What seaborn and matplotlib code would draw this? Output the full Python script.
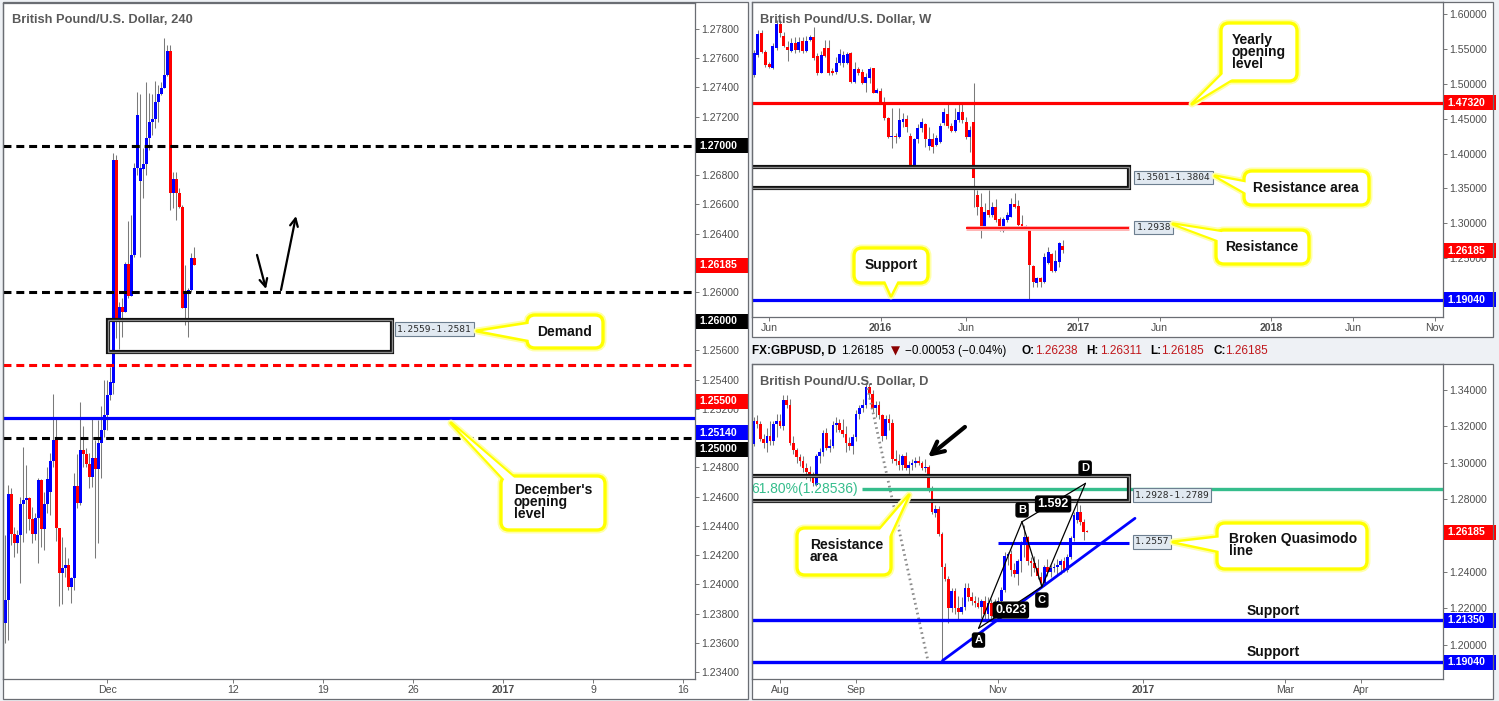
import numpy as np
import matplotlib
matplotlib.use("Agg")
import matplotlib.pyplot as plt
import seaborn as sns
from matplotlib.patches import Rectangle, FancyBboxPatch, Polygon
from matplotlib.transforms import blended_transform_factory
from matplotlib.ticker import FuncFormatter

sns.set_theme(style="white")
plt.rcParams["font.family"] = ["Liberation Sans", "DejaVu Sans"]

# ---------------- 4H candles (bar 0 = first 4H bar of Dec 1) ----------------
h4_first = -34
h4_open = [1.23733, 1.23893, 1.24618, 1.24342, 1.24281, 1.24338, 1.24550, 1.24577, 1.24591, 1.24445,
           1.24342, 1.24452, 1.24714, 1.24377, 1.24550, 1.24634, 1.24844, 1.24988, 1.24383, 1.24080,
           1.24110, 1.24133, 1.23980, 1.24041, 1.24673, 1.24555, 1.24920, 1.24892, 1.24821, 1.24737,
           1.24862, 1.24792, 1.24965, 1.25056, 1.25159, 1.25296, 1.25378, 1.26904, 1.25802, 1.25898,
           1.25866, 1.26194, 1.25973, 1.26253, 1.26846, 1.26762, 1.26840, 1.26874, 1.27052, 1.27161,
           1.27182, 1.27303, 1.27353, 1.27394, 1.27485, 1.27649, 1.26680, 1.26773, 1.26680, 1.26584,
           1.25893, 1.26003, 1.26012, 1.26231]
h4_high = [1.24338, 1.24680, 1.24657, 1.24395, 1.24372, 1.24600, 1.24942, 1.24817, 1.24600, 1.24532,
           1.24486, 1.24726, 1.24721, 1.24634, 1.24806, 1.24897, 1.25301, 1.25148, 1.24383, 1.24326,
           1.24258, 1.24178, 1.24053, 1.24764, 1.24892, 1.25248, 1.25084, 1.24931, 1.24897, 1.25148,
           1.24988, 1.25125, 1.25221, 1.25399, 1.25399, 1.25490, 1.26949, 1.26938, 1.25934, 1.25957,
           1.26203, 1.26486, 1.26527, 1.26883, 1.27367, 1.27353, 1.26983, 1.27435, 1.27360, 1.27353,
           1.27444, 1.27417, 1.27440, 1.27741, 1.27690, 1.27690, 1.26824, 1.26824, 1.26710, 1.26596,
           1.26185, 1.26026, 1.26265, 1.26306]
h4_low = [1.23597, 1.23619, 1.24270, 1.24190, 1.24212, 1.24012, 1.24292, 1.24349, 1.24372, 1.24281,
          1.24304, 1.24149, 1.24258, 1.24235, 1.24486, 1.24475, 1.24806, 1.24299, 1.23852, 1.23866,
          1.24053, 1.23962, 1.23870, 1.23962, 1.24520, 1.24543, 1.24806, 1.24806, 1.24662, 1.24664,
          1.24183, 1.24281, 1.24726, 1.25011, 1.25056, 1.25262, 1.25300, 1.25683, 1.25610, 1.25695,
          1.25866, 1.25957, 1.25973, 1.26242, 1.26801, 1.26242, 1.26646, 1.26801, 1.26972, 1.27075,
          1.27125, 1.27166, 1.27348, 1.27394, 1.27481, 1.26561, 1.26573, 1.26493, 1.26573, 1.25889,
          1.25775, 1.25695, 1.26003, 1.26185]
h4_close = [1.23893, 1.24618, 1.24342, 1.24281, 1.24338, 1.24550, 1.24577, 1.24591, 1.24445, 1.24342,
            1.24452, 1.24714, 1.24377, 1.24550, 1.24721, 1.24844, 1.24988, 1.24383, 1.24080, 1.24110,
            1.24133, 1.23980, 1.24041, 1.24673, 1.24555, 1.24920, 1.24892, 1.24821, 1.24737, 1.24862,
            1.24792, 1.24965, 1.25056, 1.25159, 1.25296, 1.25387, 1.26904, 1.25802, 1.25898, 1.25866,
            1.26194, 1.25973, 1.26253, 1.26846, 1.27212, 1.26846, 1.26874, 1.27052, 1.27161, 1.27182,
            1.27303, 1.27353, 1.27394, 1.27485, 1.27649, 1.26680, 1.26773, 1.26680, 1.26584, 1.25893,
            1.26003, 1.26012, 1.26231, 1.26185]
h4_ticks = [0, 42, 72, 102, 132, 162, 192]
h4_tick_labels = ["Dec", "12", "19", "26", "2017", "9", "16"]
h4_levels_dashed = [1.2700, 1.2600, 1.2500]
h4_level_red = 1.2550
h4_level_blue = 1.2514
demand_zone = (1.2559, 1.2581)

# ---------------- weekly candles (0 = week of Dec 5, 2016) ----------------
wk_open = [1.5174, 1.5126, 1.5413, 1.5723, 1.5451, 1.5284, 1.5221, 1.5518, 1.5857, 1.5685,
           1.5522, 1.5475, 1.5580, 1.5484, 1.5618, 1.5475, 1.5627, 1.5666, 1.5398, 1.5159,
           1.5508, 1.5508, 1.5174, 1.5174, 1.5293, 1.5293, 1.5303, 1.5436, 1.5030, 1.5207,
           1.5174, 1.5016, 1.5078, 1.5221, 1.4873, 1.4897, 1.4744, 1.4505, 1.4233, 1.4247,
           1.4233, 1.4457, 1.4496, 1.4252, 1.3836, 1.4209, 1.4362, 1.4424, 1.4109, 1.4209,
           1.4123, 1.4171, 1.4433, 1.4567, 1.4395, 1.4328, 1.4481, 1.4601, 1.4457, 1.4233,
           1.4448, 1.3407, 1.3230, 1.2929, 1.3192, 1.3120, 1.3230, 1.3063, 1.2896, 1.3048,
           1.3096, 1.3278, 1.3254, 1.2991, 1.2929, 1.2905, 1.2389, 1.2141, 1.2213, 1.2165,
           1.2437, 1.2561, 1.2322, 1.2451, 1.2681]
wk_high = [1.5460, 1.5484, 1.5771, 1.5771, 1.5484, 1.5317, 1.5580, 1.5914, 1.5914, 1.5747,
           1.5618, 1.5651, 1.5675, 1.5675, 1.5666, 1.5685, 1.5699, 1.5818, 1.5436, 1.5475,
           1.5627, 1.5627, 1.5221, 1.5389, 1.5494, 1.5475, 1.5460, 1.5460, 1.5317, 1.5245,
           1.5207, 1.5150, 1.5245, 1.5221, 1.4935, 1.4935, 1.4806, 1.4529, 1.4648, 1.4290,
           1.4648, 1.4577, 1.4553, 1.4290, 1.4219, 1.4424, 1.4505, 1.4433, 1.4376, 1.4290,
           1.4266, 1.4433, 1.4648, 1.4744, 1.4433, 1.4648, 1.4720, 1.4720, 1.4529, 1.4395,
           1.5007, 1.3478, 1.3431, 1.3297, 1.3478, 1.3311, 1.3345, 1.3087, 1.3096, 1.3168,
           1.3359, 1.3431, 1.3335, 1.3120, 1.2977, 1.2915, 1.2404, 1.2237, 1.2237, 1.2571,
           1.2666, 1.2580, 1.2619, 1.2738, 1.2762]
wk_low = [1.5102, 1.5102, 1.5389, 1.5436, 1.5236, 1.5221, 1.5207, 1.5484, 1.5675, 1.5532,
          1.5331, 1.5460, 1.5436, 1.5460, 1.5436, 1.5460, 1.5618, 1.5341, 1.5126, 1.5150,
          1.5389, 1.5126, 1.5126, 1.5140, 1.5269, 1.5245, 1.5279, 1.5016, 1.5007, 1.5126,
          1.4997, 1.4887, 1.5007, 1.4863, 1.4863, 1.4720, 1.4481, 1.4219, 1.4075, 1.4147,
          1.4219, 1.4386, 1.4314, 1.3836, 1.3822, 1.4156, 1.4314, 1.4099, 1.4051, 1.4010,
          1.4109, 1.4147, 1.4410, 1.4362, 1.4314, 1.4314, 1.4457, 1.4433, 1.4204, 1.4027,
          1.3230, 1.3120, 1.2786, 1.2915, 1.3096, 1.3096, 1.3025, 1.2896, 1.2881, 1.3025,
          1.3087, 1.3216, 1.2962, 1.2929, 1.2905, 1.1912, 1.2093, 1.2093, 1.2093, 1.2141,
          1.2418, 1.2308, 1.2299, 1.2380, 1.2571]
wk_close = [1.5126, 1.5436, 1.5713, 1.5451, 1.5269, 1.5245, 1.5541, 1.5857, 1.5723, 1.5541,
            1.5484, 1.5580, 1.5484, 1.5604, 1.5475, 1.5618, 1.5666, 1.5365, 1.5150, 1.5413,
            1.5398, 1.5159, 1.5159, 1.5293, 1.5427, 1.5413, 1.5427, 1.5030, 1.5207, 1.5150,
            1.5007, 1.5093, 1.5207, 1.4873, 1.4911, 1.4744, 1.4505, 1.4233, 1.4247, 1.4233,
            1.4481, 1.4496, 1.4386, 1.3836, 1.4209, 1.4362, 1.4457, 1.4209, 1.4209, 1.4099,
            1.4219, 1.4395, 1.4601, 1.4395, 1.4328, 1.4481, 1.4601, 1.4481, 1.4233, 1.4338,
            1.3645, 1.3230, 1.2929, 1.3168, 1.3120, 1.3239, 1.3048, 1.2905, 1.3063, 1.3120,
            1.3278, 1.3239, 1.2977, 1.2953, 1.2962, 1.2404, 1.2165, 1.2222, 1.2165, 1.2514,
            1.2590, 1.2322, 1.2466, 1.2714, 1.26185]
wk_ticks = [-79, -49, -26, 4, 26, 56, 78, 100]
wk_tick_labels = ["Jun", "2016", "Jun", "2017", "Jun", "2018", "Jun", "Nov"]
wk_yearly_open = 1.4732
wk_support = 1.1904
wk_res_zone = (1.3501, 1.3804)
wk_resistance = 1.2938

# ---------------- daily candles (0 = Nov 1, 2016) ----------------
d_first = -74
d_open = [1.3105, 1.3230, 1.3215, 1.3130, 1.3110, 1.3150, 1.3120, 1.3215, 1.3230, 1.3200,
          1.3345, 1.3320, 1.3110, 1.3070, 1.3030, 1.3010, 1.2970, 1.2950, 1.2920, 1.2880,
          1.3035, 1.3060, 1.3165, 1.3080, 1.3090, 1.3210, 1.3220, 1.3180, 1.3160, 1.3110,
          1.3090, 1.3140, 1.3270, 1.3300, 1.3320, 1.3415, 1.3380, 1.3300, 1.3320, 1.3260,
          1.3150, 1.3240, 1.3220, 1.3020, 1.3010, 1.2990, 1.3040, 1.2970, 1.2990, 1.3000,
          1.3010, 1.3000, 1.2970, 1.2975, 1.2850, 1.2722, 1.2745, 1.2610, 1.2430, 1.2360,
          1.2200, 1.2295, 1.2200, 1.2180, 1.2210, 1.2310, 1.2260, 1.2240, 1.2230, 1.2210,
          1.2240, 1.2170, 1.2230, 1.2160, 1.2230, 1.2240, 1.2300, 1.2490, 1.2500, 1.2410,
          1.2390, 1.2460, 1.2560, 1.2590, 1.2460, 1.2450, 1.2420, 1.2370, 1.2340, 1.2430,
          1.2400, 1.2420, 1.2430, 1.2440, 1.2460, 1.2410, 1.2484, 1.2585, 1.2686, 1.2732,
          1.2677, 1.2624]
d_high = [1.3250, 1.3260, 1.3230, 1.3160, 1.3190, 1.3230, 1.3230, 1.3270, 1.3270, 1.3370,
          1.3370, 1.3350, 1.3150, 1.3080, 1.3050, 1.3040, 1.3000, 1.2980, 1.2950, 1.3050,
          1.3080, 1.3180, 1.3190, 1.3130, 1.3230, 1.3250, 1.3240, 1.3240, 1.3200, 1.3140,
          1.3160, 1.3290, 1.3320, 1.3350, 1.3440, 1.3440, 1.3400, 1.3340, 1.3340, 1.3270,
          1.3260, 1.3270, 1.3240, 1.3070, 1.3050, 1.3050, 1.3060, 1.3010, 1.3020, 1.3030,
          1.3040, 1.3010, 1.3020, 1.2990, 1.2870, 1.2770, 1.2760, 1.2620, 1.2450, 1.2380,
          1.2310, 1.2310, 1.2270, 1.2260, 1.2340, 1.2340, 1.2290, 1.2270, 1.2260, 1.2250,
          1.2270, 1.2260, 1.2250, 1.2250, 1.2260, 1.2320, 1.2510, 1.2510, 1.2520, 1.2450,
          1.2470, 1.2570, 1.2660, 1.2600, 1.2480, 1.2490, 1.2470, 1.2400, 1.2440, 1.2470,
          1.2440, 1.2450, 1.2470, 1.2470, 1.2480, 1.2500, 1.2600, 1.2730, 1.2777, 1.2770,
          1.2690, 1.2631]
d_low = [1.3090, 1.3190, 1.3120, 1.3080, 1.3060, 1.3100, 1.3100, 1.3140, 1.3190, 1.3180,
         1.3300, 1.3100, 1.3050, 1.3000, 1.2980, 1.2950, 1.2910, 1.2900, 1.2870, 1.2870,
         1.3000, 1.3040, 1.3070, 1.3060, 1.3080, 1.3170, 1.3170, 1.3140, 1.3060, 1.3070,
         1.3050, 1.3120, 1.3240, 1.3280, 1.3300, 1.3350, 1.3280, 1.3250, 1.3240, 1.3120,
         1.3130, 1.3180, 1.3000, 1.2990, 1.2960, 1.2960, 1.2960, 1.2940, 1.2960, 1.2975,
         1.2990, 1.2960, 1.2950, 1.2840, 1.2720, 1.2700, 1.2600, 1.1904, 1.2350, 1.2120,
         1.2180, 1.2170, 1.2140, 1.2170, 1.2190, 1.2240, 1.2220, 1.2210, 1.2200, 1.2150,
         1.2140, 1.2140, 1.2130, 1.2150, 1.2180, 1.2220, 1.2290, 1.2440, 1.2380, 1.2370,
         1.2330, 1.2400, 1.2480, 1.2440, 1.2380, 1.2400, 1.2360, 1.2320, 1.2325, 1.2380,
         1.2370, 1.2400, 1.2390, 1.2390, 1.2400, 1.2400, 1.2470, 1.2570, 1.2670, 1.2660,
         1.2576, 1.2618]
d_close = [1.3230, 1.3215, 1.3130, 1.3110, 1.3150, 1.3120, 1.3215, 1.3230, 1.3200, 1.3345,
           1.3320, 1.3110, 1.3070, 1.3030, 1.3010, 1.2970, 1.2950, 1.2920, 1.2890, 1.3035,
           1.3060, 1.3165, 1.3080, 1.3090, 1.3210, 1.3220, 1.3180, 1.3160, 1.3110, 1.3090,
           1.3140, 1.3270, 1.3300, 1.3320, 1.3415, 1.3380, 1.3300, 1.3320, 1.3260, 1.3150,
           1.3240, 1.3220, 1.3020, 1.3010, 1.2990, 1.3040, 1.2970, 1.2990, 1.3000, 1.3010,
           1.3000, 1.2970, 1.2975, 1.2850, 1.2730, 1.2745, 1.2610, 1.2430, 1.2360, 1.2200,
           1.2295, 1.2200, 1.2180, 1.2210, 1.2310, 1.2260, 1.2240, 1.2230, 1.2210, 1.2240,
           1.2170, 1.2230, 1.2160, 1.2230, 1.2240, 1.2300, 1.2490, 1.2500, 1.2410, 1.2390,
           1.2460, 1.2560, 1.2590, 1.2460, 1.2450, 1.2420, 1.2380, 1.2340, 1.2430, 1.2400,
           1.2420, 1.2430, 1.2440, 1.2460, 1.2410, 1.2480, 1.2585, 1.2713, 1.2732, 1.2677,
           1.2622, 1.26185]
d_ticks = [-66, -43, 0, 44, 87, 110]
d_tick_labels = ["Aug", "Sep", "Nov", "2017", "Mar", "Apr"]
d_res_zone = (1.2789, 1.2928)
d_fib = 1.28536
d_qm = 1.2557
d_supports = [1.2135, 1.1904]
# harmonic pattern points (bar, price)
pat_names = ["A", "B", "C", "D"]
pat_x = [-5.85, 7.27, 13.3, 26.5]
pat_y = [1.2091, 1.2676, 1.2319, 1.2887]

BLUE, RED, WICK = "#0000ff", "#ff0000", "#7a7a7a"
GRID_TXT = "#4d4d4d"
W, H = 1499, 701

fig = plt.figure(figsize=(W / 100, H / 100), dpi=100, facecolor="#eef1f5")
T = fig.dpi_scale_trans


def px(x, y):
    return (x / 100.0, (H - y) / 100.0)


def panel(x0, y0, x1, y1):
    fig.add_artist(Rectangle(px(x0, y1), (x1 - x0) / 100, (y1 - y0) / 100, transform=T,
                             fc="white", ec="none", zorder=-5))
    fig.add_artist(Rectangle(px(x0, y1), (x1 - x0) / 100, (y1 - y0) / 100, transform=T,
                             fill=False, ec="#6a6d73", lw=0.9, zorder=30))


def make_ax(x0, y0, x1, y1, hidden=()):
    ax = fig.add_axes([x0 / W, 1 - y1 / H, (x1 - x0) / W, (y1 - y0) / H])
    ax.set_facecolor("white")
    for s in ax.spines.values():
        s.set_color("#6a6d73")
        s.set_linewidth(0.9)
    ax.yaxis.tick_right()
    ax.tick_params(axis="y", right=True, left=False, length=3, width=0.7, color="#777",
                   labelsize=7.6, labelcolor=GRID_TXT, pad=1.5)
    ax.tick_params(axis="x", bottom=True, length=3, width=0.7, color="#777",
                   labelsize=7.6, labelcolor=GRID_TXT, pad=1.5)
    # labels that sit fully under a price tag are not shown
    ax.yaxis.set_major_formatter(FuncFormatter(
        lambda v, p: "" if any(abs(v - hv) < 1e-6 for hv in hidden) else f"{v:.5f}"))
    ax.grid(False)
    return ax


def candles(ax, x, o, h, l, c, width, ppu):
    o, h, l, c = map(np.asarray, (o, h, l, c))
    col = np.where(c >= o, BLUE, RED)
    ax.vlines(x, l, h, color=WICK, lw=0.75, zorder=2)
    body = np.maximum(np.abs(c - o), 1.5 / ppu)
    ax.bar(x, body, bottom=np.minimum(o, c), width=width, color=col, lw=0, zorder=3,
           antialiased=False)


def tag(ax, y, txt, color, ppu, axw):
    tr = blended_transform_factory(ax.transAxes, ax.transData)
    h = 15.0 / ppu
    ax.add_patch(Rectangle((1.0 + 1.0 / axw, y - h / 2), 52.0 / axw, h, transform=tr,
                           clip_on=False, fc=color, ec="none", zorder=10))
    ax.text(1.0 + 4.5 / axw, y, txt, transform=tr, color="white", fontsize=7.6,
            fontweight="bold", va="center", ha="left", zorder=11, clip_on=False)


def zone_box(ax, x0, x1, lo, hi):
    for lw, col in [(3.0, "#111111"), (1.0, "#8a8a8a")]:
        ax.add_patch(Rectangle((x0, lo), x1 - x0, hi - lo, fill=False, ec=col, lw=lw, zorder=6))


def value_label(ax, x, y, txt):
    ax.text(x, y, txt, fontsize=6.8, family="DejaVu Sans Mono", color="#2b2b2b",
            ha="left", va="center", zorder=12, clip_on=False,
            bbox=dict(boxstyle="square,pad=0.22", fc="#e1e9f1", ec="#6d7f90", lw=0.8))


def year_bold(ax):
    for t in ax.get_xticklabels():
        if t.get_text().isdigit() and len(t.get_text()) == 4:
            t.set_fontweight("bold")


def callout(box, tail, text, txt_xy, ha="center"):
    x0, y0, x1, y1 = box
    pts = [px(*p) for p in tail]
    for lw, col, z in [(5.0, "#ffffa8", 20.0), (2.4, "#ffff00", 20.2)]:
        fig.add_artist(Polygon(pts, closed=True, transform=T, fc="white", ec=col, lw=lw,
                               joinstyle="round", zorder=z))
        fig.add_artist(FancyBboxPatch(px(x0, y1), (x1 - x0) / 100, (y1 - y0) / 100,
                                      boxstyle="round,pad=0,rounding_size=0.08", transform=T,
                                      fc="white", ec=col, lw=lw, zorder=z + 0.1))
    c = np.mean(np.array(pts), axis=0)
    inner = [c + (np.array(p) - c) * 0.86 for p in pts]
    fig.add_artist(Polygon(inner, closed=True, transform=T, fc="white", ec="none", zorder=20.5))
    fig.text(*px(*txt_xy), text, transform=T, fontsize=10, fontweight="bold", color="#111",
             ha=ha, va="center", linespacing=0.86, zorder=21)


# ================= left panel : 240 =================
panel(3, 2, 748, 699)
ax1 = make_ax(3, 3, 695, 679, hidden=(1.270, 1.262, 1.258, 1.250))
x_h4 = np.arange(h4_first, h4_first + len(h4_open))
candles(ax1, x_h4, h4_open, h4_high, h4_low, h4_close, 1.0, 14614)
ax1.set_xlim(-34.67, 196)
ax1.set_ylim(1.23352, 1.27978)
ax1.set_yticks(np.round(np.arange(1.234, 1.2781, 0.002), 3))
ax1.set_xticks(h4_ticks)
ax1.set_xticklabels(h4_tick_labels)
year_bold(ax1)
for lv in h4_levels_dashed:
    ax1.axhline(lv, color="black", lw=2.2, ls=(0, (2.6, 1.6)), zorder=5)
ax1.axhline(h4_level_red, color=RED, lw=2.2, ls=(0, (2.6, 1.6)), zorder=5)
ax1.axhline(h4_level_blue, color=BLUE, lw=2.3, zorder=5)
zone_box(ax1, 0.3, 95, *demand_zone)
value_label(ax1, 96.6, 1.25747, "1.2559-1.2581")
ax1.annotate("", xy=(53, 1.26021), xytext=(50, 1.26254),
             arrowprops=dict(arrowstyle="->", lw=1.6, color="black", mutation_scale=14,
                             shrinkA=0, shrinkB=0), zorder=7)
ax1.annotate("", xy=(63, 1.26520), xytext=(58, 1.26014),
             arrowprops=dict(arrowstyle="->", lw=1.6, color="black", mutation_scale=14,
                             shrinkA=0, shrinkB=0), zorder=7)
tag(ax1, 1.27000, "1.27000", "black", 14614, 692)
tag(ax1, 1.26185, "1.26185", RED, 14614, 692)
tag(ax1, 1.25799, "1.26000", "black", 14614, 692)
tag(ax1, 1.25252, "1.25500", RED, 14614, 692)
tag(ax1, 1.25038, "1.25140", BLUE, 14614, 692)
tag(ax1, 1.24924, "1.25000", "black", 14614, 692)
fig.text(*px(12, 20), "British Pound/U.S. Dollar, 240", transform=T, fontsize=9.3,
         fontweight="bold", color="#5a5a5a", va="center", ha="left")

# ================= top right : weekly =================
panel(752, 2, 1493, 337)
ax2 = make_ax(752, 2, 1443, 317, hidden=(1.20,))
x_wk = np.arange(-len(wk_open) + 1, 1)
candles(ax2, x_wk, wk_open, wk_high, wk_low, wk_close, 0.8, 698)
ax2.set_xlim(-83.6, 102.2)
ax2.set_ylim(1.16590, 1.61719)
ax2.set_yticks(np.round(np.arange(1.20, 1.601, 0.05), 2))
ax2.set_xticks(wk_ticks)
ax2.set_xticklabels(wk_tick_labels)
year_bold(ax2)
ax2.axhline(wk_yearly_open, color=RED, lw=2.3, zorder=5)
ax2.axhline(wk_support, color=BLUE, lw=2.3, zorder=5)
zone_box(ax2, -90, 17.7, *wk_res_zone)
ax2.hlines(wk_resistance, -26.1, 17.7, color="#ffb0b0", lw=3.5, zorder=5)
ax2.hlines(wk_resistance, -26.1, 17.7, color=RED, lw=1.3, zorder=5)
value_label(ax2, 19.6, 1.3653, "1.3501-1.3804")
value_label(ax2, 19.8, 1.2938, "1.2938")
tag(ax2, 1.47320, "1.47320", RED, 698, 691)
tag(ax2, 1.26050, "1.26185", RED, 698, 691)
tag(ax2, 1.19040, "1.19040", BLUE, 698, 691)
fig.text(*px(760, 20), "British Pound/U.S. Dollar, W", transform=T, fontsize=9.3,
         fontweight="bold", color="#5a5a5a", va="center", ha="left")

# ================= bottom right : daily =================
panel(752, 364, 1493, 699)
ax3 = make_ax(752, 364, 1443, 679, hidden=(1.26,))
x_d = np.arange(d_first, d_first + len(d_open))
candles(ax3, x_d, d_open, d_high, d_low, d_close, 0.8, 1820)
ax3.set_xlim(-74.5, 134.8)
ax3.set_ylim(1.18121, 1.35429)
ax3.set_yticks(np.round(np.arange(1.20, 1.341, 0.02), 2))
ax3.set_xticks(d_ticks)
ax3.set_xticklabels(d_tick_labels)
year_bold(ax3)
ax3.plot([-39.8, -21.1], [1.3437, 1.1904], color="#8c8c8c", lw=2.0, ls=(0, (0.6, 1.2)),
         zorder=4)
zone_box(ax3, -80, 39.7, *d_res_zone)
ax3.hlines(d_fib, -41.2, 140, color="#35bd8c", lw=2.4, zorder=5)
ax3.text(-42.4, d_fib, "61.80%(1.28536)", color="#35bd8c", fontsize=10, ha="right",
         va="center", clip_on=True, zorder=6)
ax3.hlines(d_qm, 0, 39.7, color=BLUE, lw=2.2, zorder=5)
for lv in d_supports:
    ax3.axhline(lv, color=BLUE, lw=2.4, zorder=5)
ax3.plot([-16.8, 41.5], [1.1913, 1.2695], color=BLUE, lw=2.0, zorder=5)
for a, b in [(0, 1), (1, 2), (2, 3), (0, 2), (1, 3)]:
    ax3.plot([pat_x[a], pat_x[b]], [pat_y[a], pat_y[b]], color="black", lw=0.9, zorder=6)
lab_pos = {"A": (-5.9, 1.2026), "B": (7.3, 1.2741), "C": (13.3, 1.2246), "D": (26.4, 1.2971)}
for n in pat_names:
    ax3.text(*lab_pos[n], n, color="white", fontsize=8, fontweight="bold", ha="center",
             va="center", zorder=8, bbox=dict(boxstyle="round,pad=0.18", fc="black", ec="black"))
for (xx, yy, s) in [(3.9, 1.2191, "0.623"), (16.7, 1.2774, "1.592")]:
    ax3.text(xx, yy, s, color="white", fontsize=9, fontweight="bold", ha="center",
             va="center", zorder=8, bbox=dict(boxstyle="round,pad=0.15", fc="black", ec="black"))
ax3.annotate("", xy=(-21.2, 1.3032), xytext=(-10, 1.3197),
             arrowprops=dict(arrowstyle="->", lw=3.0, color="black", mutation_scale=22,
                             shrinkA=0, shrinkB=0), zorder=7)
value_label(ax3, 41.4, 1.2823, "1.2928-1.2789")
value_label(ax3, 41.4, 1.2565, "1.2557")
ax3.text(83.5, 1.2183, "Support", fontsize=10, fontweight="bold", color="#111", ha="center",
         va="center", zorder=8)
ax3.text(83.5, 1.1963, "Support", fontsize=10, fontweight="bold", color="#111", ha="center",
         va="center", zorder=8)
tag(ax3, 1.26185, "1.26185", RED, 1820, 691)
tag(ax3, 1.21350, "1.21350", BLUE, 1820, 691)
tag(ax3, 1.19040, "1.19040", BLUE, 1820, 691)
fig.text(*px(760, 382), "British Pound/U.S. Dollar, D", transform=T, fontsize=9.3,
         fontweight="bold", color="#5a5a5a", va="center", ha="left")

# header line of the daily chart
hdr = [(752, "FX:GBPUSD, D", "black", "bold"), (841, "1.26185", "black", "normal"),
       (891, "\u25bc", "#8b0000", "normal"), (905, "\u22120.00053 (\u22120.04%)", "black", "normal"),
       (1021, "O:", "black", "bold"), (1035, "1.26238", "#c0161a", "normal"),
       (1086, "H:", "black", "bold"), (1100, "1.26311", "#c0161a", "normal"),
       (1150, "L:", "black", "bold"), (1161, "1.26185", "#c0161a", "normal"),
       (1213, "C:", "black", "bold"), (1225, "1.26185", "#c0161a", "normal")]
for xx, s, col, wt in hdr:
    fam = ["DejaVu Sans"] if s == "\u25bc" else ["Liberation Sans", "DejaVu Sans"]
    fig.text(*px(xx, 351), s, transform=T, fontsize=8.5, color=col, fontweight=wt,
             family=fam, va="center", ha="left")

# ================= callouts =================
callout((527, 315, 603, 348), [(477, 331), (535, 322), (535, 342)], "Demand", (565, 332))
callout((501, 476, 605, 530), [(451, 423), (508, 484), (522, 484)],
        "December's\nopening\nlevel", (514, 502), ha="left")
callout((1221, 23, 1297, 81), [(1192, 104), (1230, 66), (1238, 76)],
        "Yearly\nopening\nlevel", (1232, 52), ha="left")
callout((1244, 171, 1369, 205), [(1215, 176), (1252, 183), (1252, 197)],
        "Resistance area", (1306, 188))
callout((1216, 230, 1309, 264), [(1173, 224), (1224, 232), (1224, 243)],
        "Resistance", (1262, 247))
callout((854, 248, 928, 283), [(891, 296), (882, 276), (901, 276)], "Support", (891, 265))
callout((797, 528, 891, 575), [(909, 495), (872, 538), (886, 545)],
        "Resistance\narea", (810, 551), ha="left")
callout((1217, 523, 1367, 569), [(1173, 542), (1225, 536), (1225, 553)],
        "Broken Quasimodo\nline", (1229, 545), ha="left")

fig.savefig("out.png", dpi=100, facecolor=fig.get_facecolor())
